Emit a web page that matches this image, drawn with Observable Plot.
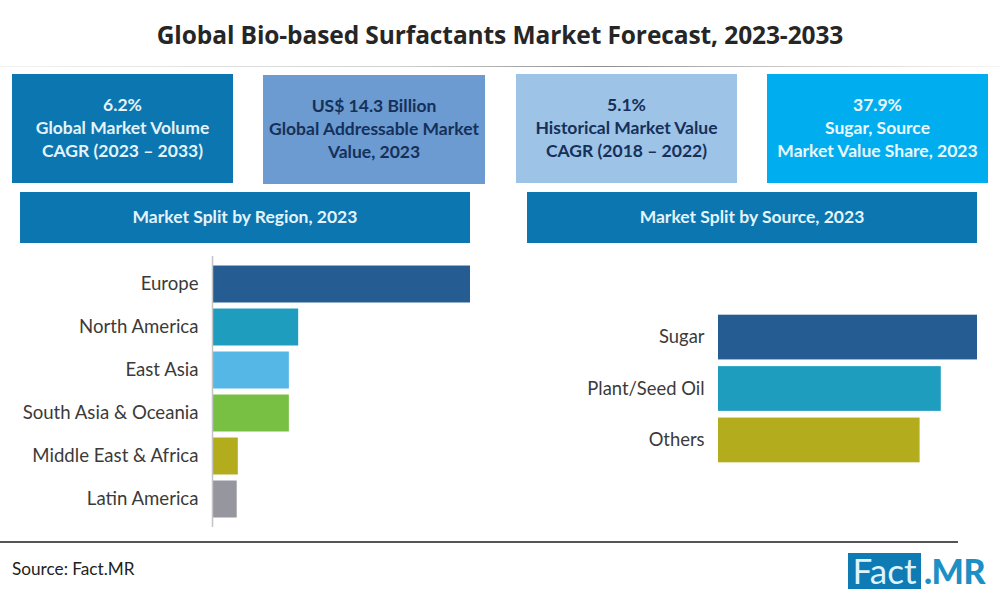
<!DOCTYPE html>
<html>
<head>
<meta charset="utf-8">
<script src="https://cdn.jsdelivr.net/npm/d3@7"></script>
<script src="https://cdn.jsdelivr.net/npm/@observablehq/plot@0.6"></script>
<style>
  html, body { margin: 0; padding: 0; background: #fff; }
  body { width: 1000px; height: 600px; position: relative; overflow: hidden; font-family: Lato, "Open Sans", sans-serif; }
  h1 { position: absolute; left: 0; top: 18px; width: 1000px; margin: 0; text-align: center; font-size: 24.5px; line-height: 34px; font-weight: 700; color: #262626; font-family: "Open Sans", Lato, sans-serif; letter-spacing: -0.1px; }
  .rule-top { position: absolute; left: 0; top: 66px; width: 1000px; height: 1px; background: linear-gradient(90deg, #f2f2f2 0%, #d0d0d0 40%, #8c8c8c 60%, #d0d0d0 80%, #f5f5f5 100%); }
  .rule-bottom { position: absolute; left: 0; top: 541px; width: 958px; height: 1.5px; background: #555; }
  .box { position: absolute; display: flex; align-items: center; justify-content: center; text-align: center; font-weight: 700; font-size: 17.5px; line-height: 23px; white-space: pre-line; box-sizing: border-box; padding-bottom: 2px; }
  .source { position: absolute; left: 12px; top: 557px; font-size: 17.2px; color: #222; line-height: 24px; }
  .logo-a { position: absolute; left: 848px; top: 553px; width: 73px; height: 36px; background: #0f7bb4; color: #dff3fb; font-size: 35px; line-height: 35px; text-align: center; }
  .logo-b { position: absolute; left: 924px; top: 553px; height: 36px; color: #1c8fc4; font-size: 34px; line-height: 36px; font-weight: 900; letter-spacing: -0.5px; }
  .plot { position: absolute; }
  .plot svg { display: block; }
</style>
</head>
<body>
<h1 id="title"></h1>
<div class="rule-top"></div>
<div id="boxes"></div>
<div class="plot" id="left" style="left:0;top:250px"></div>
<div class="plot" id="right" style="left:500px;top:300px"></div>
<div class="rule-bottom"></div>
<div class="source" id="source"></div>
<div class="logo-a">Fact</div>
<div class="logo-b">.MR</div>
<script>
const titleText = "Global Bio-based Surfactants Market Forecast, 2023-2033";
const sourceText = "Source: Fact.MR";

const kpiTexts = [
  "6.2%\nGlobal Market Volume\nCAGR (2023 – 2033)",
  "US$ 14.3 Billion\nGlobal Addressable Market\nValue, 2023",
  "5.1%\nHistorical Market Value\nCAGR (2018 – 2022)",
  "37.9%\nSugar, Source\nMarket Value Share, 2023"
];
const bannerTexts = ["Market Split by Region, 2023", "Market Split by Source, 2023"];

const regions = ["Europe", "North America", "East Asia", "South Asia & Oceania", "Middle East & Africa", "Latin America"];
const regionShares = [47, 15.7, 14, 14, 4.7, 4.5];
const regionColors = ["#255d92", "#1f9dbf", "#55b7e6", "#77c043", "#b3ac1c", "#96969e"];

const sources = ["Sugar", "Plant/Seed Oil", "Others"];
const sourceShares = [37.9, 32.6, 29.5];
const sourceColors = ["#255d92", "#1f9dbf", "#b3ac1c"];

document.getElementById("title").textContent = titleText;
document.getElementById("source").textContent = sourceText;

const boxStyles = [
  {l:12, t:74, w:221, h:109, bg:"#0b76b0", fg:"#e4f3fa"},
  {l:263, t:75, w:222, h:109, bg:"#6b9bd0", fg:"#16305a"},
  {l:516, t:74, w:221, h:109, bg:"#9dc3e6", fg:"#16305a"},
  {l:767, t:74, w:221, h:109, bg:"#00aeef", fg:"#eaf8fe"},
  {l:20, t:192, w:450, h:51, bg:"#0b76b0", fg:"#e4f3fa"},
  {l:527, t:192, w:450, h:51, bg:"#0b76b0", fg:"#e4f3fa"}
];
const boxHost = document.getElementById("boxes");
[...kpiTexts, ...bannerTexts].forEach((text, i) => {
  const s = boxStyles[i], d = document.createElement("div");
  d.className = "box";
  d.textContent = text;
  Object.assign(d.style, {left:s.l+"px", top:s.t+"px", width:s.w+"px", height:s.h+"px", background:s.bg, color:s.fg});
  boxHost.appendChild(d);
});

function barChart(names, values, colors, o) {
  const rows = names.map((name, i) => ({name, value: values[i]}));
  return Plot.plot({
    width: 500, height: o.height,
    marginLeft: o.marginLeft, marginRight: o.marginRight, marginTop: o.marginTop, marginBottom: o.marginBottom,
    style: {fontFamily: "Lato, sans-serif", background: "transparent"},
    x: {axis: null, domain: [0, o.max]},
    y: {domain: names, padding: o.padding, round: false, label: null, insetTop: o.inset, insetBottom: o.inset},
    color: {domain: names, range: colors},
    marks: [
      Plot.barX(rows, {x: "value", y: "name", fill: "name"}),
      Plot.axisY({anchor: "left", tickSize: 0, tickPadding: o.tickPadding, label: null, fontSize: o.fontSize, fill: "#3a3a3a", lineWidth: 30}),
      o.rule ? Plot.ruleX([0], {stroke: "#c4c4c4", strokeWidth: 1.5}) : null
    ]
  });
}

document.getElementById("left").appendChild(barChart(regions, regionShares, regionColors, {
  height: 280, marginLeft: 212, marginRight: 30, marginTop: 6, marginBottom: 3,
  max: 47, padding: 0.14, inset: 3.5, tickPadding: 14, fontSize: 18.6, rule: true
}));
document.getElementById("right").appendChild(barChart(sources, sourceShares, sourceColors, {
  height: 180, marginLeft: 218, marginRight: 23, marginTop: 8, marginBottom: 11,
  max: 37.9, padding: 0.13, inset: 0, tickPadding: 14, fontSize: 18.4, rule: false
}));
</script>
</body>
</html>
